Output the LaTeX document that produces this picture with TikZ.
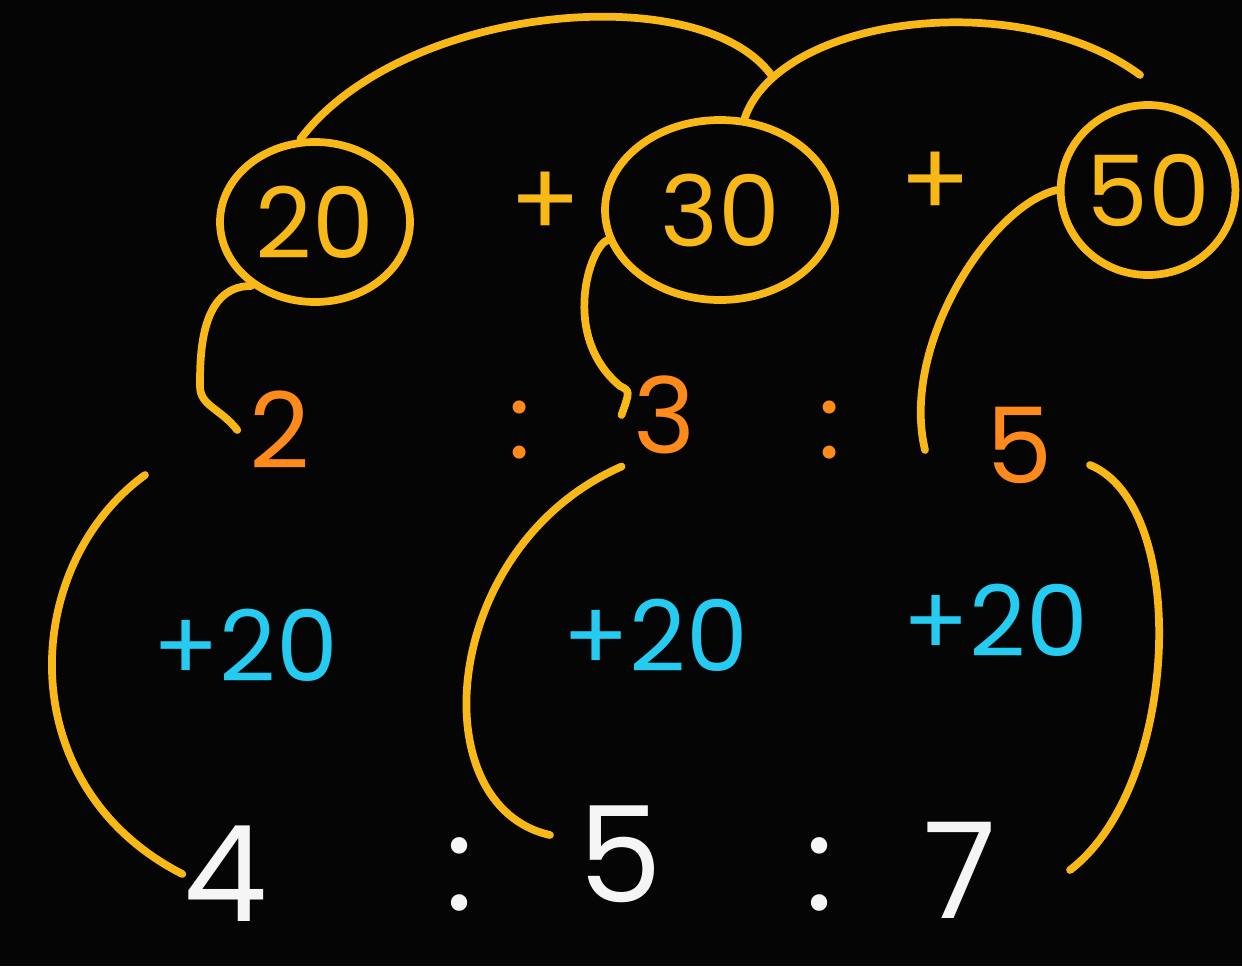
\documentclass[tikz,border=0pt]{standalone}
\usepackage{fontspec}
\setmainfont{Poppins}
\usetikzlibrary{shapes.geometric}
\definecolor{HWBack}{HTML}{050505}
\definecolor{HWYellow}{HTML}{F7B818}
\definecolor{HWOrange}{HTML}{FF8A1C}
\definecolor{HWBlue}{HTML}{25CBF0}
\definecolor{HWWhite}{HTML}{F5F5F5}

\begin{document}
\begin{tikzpicture}[x=1cm,y=1cm,
  ring/.style={draw=HWYellow,line width=2.2pt,ellipse,inner sep=0pt,text=HWYellow,font=\fontsize{28}{28}\selectfont},
  part/.style={text=HWOrange,font=\fontsize{30}{30}\selectfont},
  gain/.style={text=HWBlue,font=\fontsize{28}{28}\selectfont},
  total/.style={text=HWWhite,inner sep=0pt,font=\fontsize{38}{38}\selectfont},
  link/.style={HWYellow,line width=2.2pt,line cap=round}]
\path[use as bounding box] (0,0) rectangle (12.42,9.66);
\fill[HWBack] (0,0) rectangle (12.42,9.66);
\node[ring,minimum width=1.9cm,minimum height=1.6cm] (e20) at (3.15,7.44) {20};
\node[ring,minimum width=2.3cm,minimum height=1.8cm] (e30) at (7.20,7.56) {30};
\node[ring,minimum width=1.36cm,minimum height=1.7cm] (e50) at (11.48,7.76) {50};
\node[text=HWYellow,font=\fontsize{30}{30}\selectfont] (plusA) at (5.45,7.61) {+};
\node[text=HWYellow,font=\fontsize{30}{30}\selectfont] (plusB) at (9.35,7.81) {+};
\node[part] (r2) at (2.80,5.36) {2};
\node[part] (rc1) at (5.20,5.36) {:};
\node[part] (r3) at (6.65,5.51) {3};
\node[part] (rc2) at (8.30,5.36) {:};
\node[part] (r5) at (10.20,5.21) {5};
\node[gain] (g1) at (2.45,3.21) {+20};
\node[gain] (g2) at (6.55,3.31) {+20};
\node[gain] (g3) at (9.95,3.46) {+20};
\node[total] (b4) at (2.25,0.92) {4};
\node[total] (bc1) at (4.60,0.92) {:};
\node[total] (b5) at (6.20,1.12) {5};
\node[total] (bc2) at (8.20,0.92) {:};
\node[total] (b7) at (9.60,0.96) {7};
\coordinate (k1) at (7.72,8.90);
\coordinate (k2) at (11.40,8.91);
\coordinate (s2) at (1.45,4.91);
\coordinate (s5) at (10.90,5.01);
\coordinate (t5) at (5.50,1.31);
\coordinate (t7) at (10.70,0.96);
\draw[link] (e20.100) .. controls (4.0,9.6) and (7.0,9.9) .. (k1);
\draw[link] (e30.75) .. controls (7.8,9.5) and (10.2,9.8) .. (k2);
\draw[link] (e20.225) .. controls (2.0,6.8) and (2.0,6.1) .. (2.0,5.8) .. controls (2.0,5.6) and (2.2,5.58) .. (r2.west);
\draw[link] (e30.195) .. controls (5.9,7.2) and (5.6,6.3) .. (6.2,5.8) .. controls (6.3,5.75) .. (r3.west);
\draw[link] (e50.west) .. controls (9.9,7.6) and (9.0,6.2) .. (9.25,5.16);
\draw[link] (s2) .. controls (0.2,4.0) and (0.1,1.8) .. (b4.west);
\draw[link] (r3.south west) .. controls (4.4,4.2) and (4.2,1.6) .. (t5);
\draw[link] (s5) .. controls (11.9,4.6) and (11.8,1.8) .. (t7);
\end{tikzpicture}
\end{document}
